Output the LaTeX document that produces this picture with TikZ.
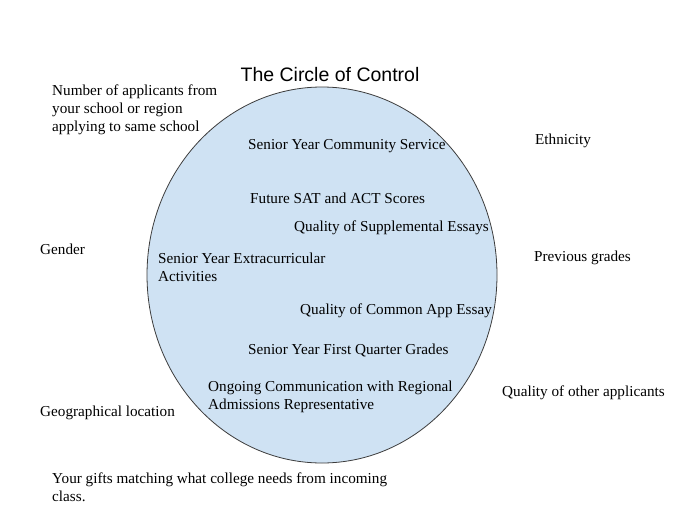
\documentclass[tikz,border=0pt]{standalone}
\usepackage{fontspec}
\setmainfont{Liberation Serif}
\newfontfamily\titlefont{Liberation Sans}
\definecolor{circfill}{RGB}{207,226,243}
\definecolor{circline}{RGB}{60,60,60}
\begin{document}
\begin{tikzpicture}[x=1pt,y=-1pt,
  lbl/.style={anchor=west,align=left,inner sep=0pt,font=\fontsize{15.2}{18}\selectfont}]
\useasboundingbox (0,0) rectangle (690,530);
\fill[white] (0,0) rectangle (690,530);
\draw[circline,fill=circfill,line width=0.8pt] (322,275) ellipse [x radius=175,y radius=188];
\node[font=\titlefont\fontsize{19.5}{22}\selectfont] (title) at (330,75) {The Circle of Control};
\node[lbl] (num) at (52,110) {Number of applicants from\\your school or region\\applying to same school};
\node[lbl] (comm) at (248,146) {Senior Year Community Service};
\node[lbl] (eth) at (535,141) {Ethnicity};
\node[lbl] (sat) at (250,198) {Future SAT and ACT Scores};
\node[lbl] (supp) at (294,228) {Quality of Supplemental Essays};
\node[lbl] (gen) at (40,249) {Gender};
\node[lbl] (extra) at (158,267) {Senior Year Extracurricular\\Activities};
\node[lbl] (prev) at (534,258) {Previous grades};
\node[lbl] (app) at (300,311) {Quality of Common App Essay};
\node[lbl] (fq) at (248,350) {Senior Year First Quarter Grades};
\node[lbl] (ongo) at (208,397) {Ongoing Communication with Regional\\Admissions Representative};
\node[lbl] (other) at (502,393) {Quality of other applicants};
\node[lbl] (geo) at (40,413) {Geographical location};
\node[lbl] (gifts) at (52,487) {Your gifts matching what college needs from incoming\\class.};
\end{tikzpicture}
\end{document}
